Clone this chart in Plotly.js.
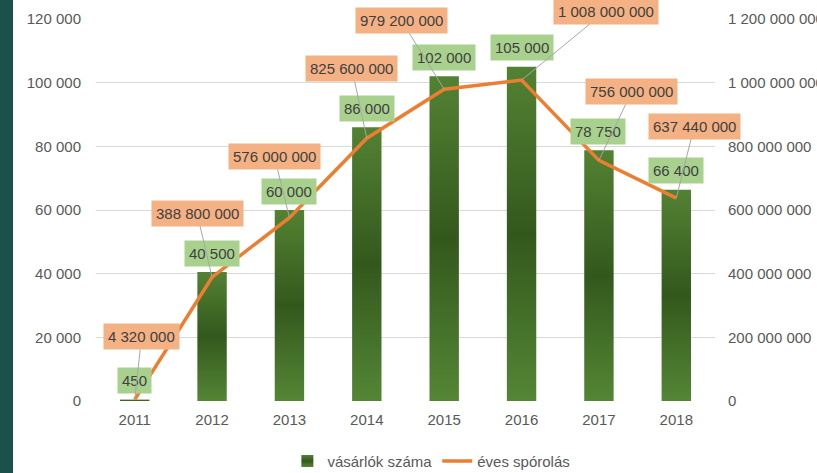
<!DOCTYPE html>
<html>
<head>
<meta charset="utf-8">
<script src="https://cdn.plot.ly/plotly-3.0.1.min.js"></script>
<style>
  html, body { margin: 0; padding: 0; background: #ffffff; }
  #strip { position: absolute; left: 0; top: 0; width: 13px; height: 473px; background: #1b504b; z-index: 5; }
  #chart { position: absolute; left: 0; top: 0; width: 817px; height: 473px; }
</style>
</head>
<body>
<div id="strip"></div>
<div id="chart"></div>
<script>
// ---- data ----
const years = ["2011", "2012", "2013", "2014", "2015", "2016", "2017", "2018"];
const buyers = [450, 40500, 60000, 86000, 102000, 105000, 78750, 66400];
const savings = [4320000, 388800000, 576000000, 825600000, 979200000, 1008000000, 756000000, 637440000];
const buyersName = "vásárlók száma";
const savingsName = "éves spórolás";
const leftTicks = [0, 20000, 40000, 60000, 80000, 100000, 120000];
const rightTicks = [0, 200000000, 400000000, 600000000, 800000000, 1000000000, 1200000000];

// label offsets (pixels) for the line data labels
const lineLabelDx = [7, -15, -15, -15, -43, 84, 33, 18];
const lineLabelDy = [-63, -64, -61, -70, -69, -69, -69, -72];
const barLabelDx = [0, 0, 0, 0, 0, 0, -1, 0];

function fmt(v) {
  return String(Math.round(v)).replace(/\B(?=(\d{3})+(?!\d))/g, " ");
}

const font = "Liberation Sans, Arial, sans-serif";

const traces = [
  {
    type: "bar", x: years, y: buyers, name: buyersName,
    marker: { color: "#457028", line: { width: 0 } },
    width: 0.38, yaxis: "y"
  },
  {
    type: "scatter", mode: "lines", x: years, y: savings, name: savingsName,
    line: { color: "#ed7d31", width: 3.5 }, yaxis: "y2"
  }
];

const annotations = [];
years.forEach((yr, i) => {
  annotations.push({
    x: i, y: buyers[i], xref: "x", yref: "y",
    text: fmt(buyers[i]), showarrow: false, yshift: 19, xshift: barLabelDx[i],
    bgcolor: "#a9d18e", borderpad: 4,
    font: { family: font, size: 15, color: "#404040" }
  });
});
years.forEach((yr, i) => {
  annotations.push({
    x: i, y: savings[i], xref: "x", yref: "y2",
    text: fmt(savings[i]), showarrow: true, arrowhead: 0, arrowwidth: 1,
    arrowcolor: "#a6a6a6", standoff: 0, startstandoff: 0,
    ax: lineLabelDx[i], ay: lineLabelDy[i],
    bgcolor: "#f4b183", borderpad: 4,
    font: { family: font, size: 15, color: "#404040" }
  });
});

const layout = {
  width: 817, height: 473,
  margin: { l: 96, r: 102, t: 19, b: 72 },
  paper_bgcolor: "#ffffff", plot_bgcolor: "#ffffff",
  font: { family: font, size: 15, color: "#595959" },
  showlegend: true,
  legend: {
    orientation: "h", xref: "container", yref: "container",
    x: 0.528, xanchor: "center", y: 0.025, yanchor: "middle",
    font: { family: font, size: 15, color: "#595959" }
  },
  xaxis: {
    type: "category", categoryorder: "array", categoryarray: years,
    range: [-0.5, 7.5], showgrid: false, zeroline: false, showline: false,
    ticks: "", ticklabelstandoff: 8, tickfont: { family: font, size: 15, color: "#595959" }
  },
  yaxis: {
    range: [0, 120000], tickmode: "array", tickvals: leftTicks, ticktext: leftTicks.map(fmt),
    showgrid: true, gridcolor: "#d9d9d9", gridwidth: 1, zeroline: false, showline: false,
    ticks: "", ticklabelstandoff: 14, tickfont: { family: font, size: 15, color: "#595959" }
  },
  yaxis2: {
    range: [0, 1200000000], tickmode: "array", tickvals: rightTicks, ticktext: rightTicks.map(fmt),
    overlaying: "y", side: "right", showgrid: false, zeroline: false, showline: false,
    ticks: "", ticklabelstandoff: 12, tickfont: { family: font, size: 15, color: "#595959" }
  },
  annotations: annotations
};

Plotly.newPlot("chart", traces, layout, { staticPlot: true, displayModeBar: false }).then(() => {
  const svg = document.querySelector("#chart .main-svg");
  const ns = "http://www.w3.org/2000/svg";
  let defs = svg.querySelector("defs");
  if (!defs) { defs = document.createElementNS(ns, "defs"); svg.insertBefore(defs, svg.firstChild); }
  const grad = document.createElementNS(ns, "linearGradient");
  grad.setAttribute("id", "bargrad");
  grad.setAttribute("x1", "0"); grad.setAttribute("y1", "0");
  grad.setAttribute("x2", "0"); grad.setAttribute("y2", "1");
  [["0%", "#538233"], ["50%", "#33581c"], ["100%", "#548635"]].forEach(([o, c]) => {
    const s = document.createElementNS(ns, "stop");
    s.setAttribute("offset", o); s.setAttribute("stop-color", c);
    grad.appendChild(s);
  });
  defs.appendChild(grad);
  document.querySelectorAll("#chart .barlayer .point path").forEach(p => { p.style.fill = "url(#bargrad)"; });
  document.querySelectorAll("#chart .legend .legendpoints path").forEach(p => {
    if (p.closest(".legendbar") || p.classList.contains("legendundefined")) p.style.fill = "url(#bargrad)";
  });
});
</script>
</body>
</html>
